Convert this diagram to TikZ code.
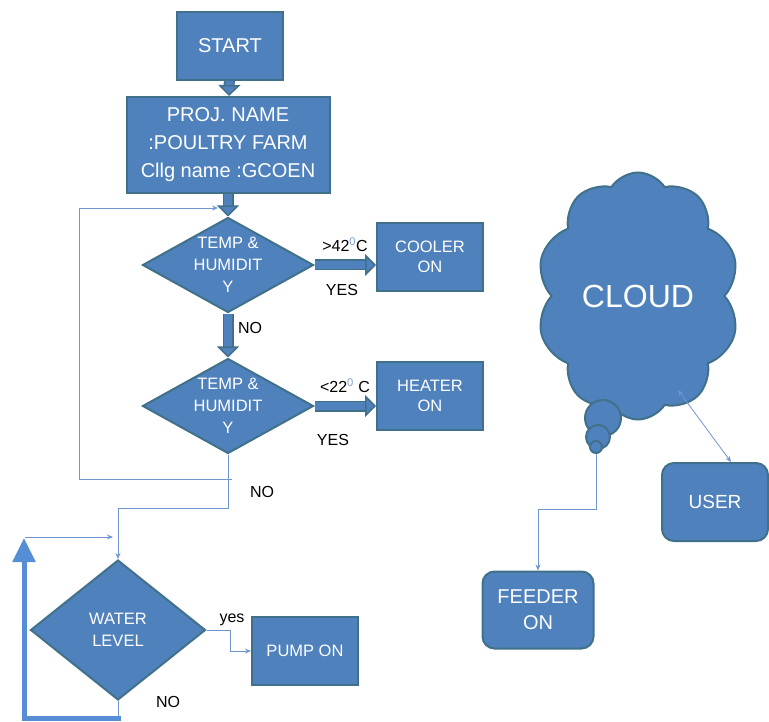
\documentclass[tikz,border=0pt]{standalone}
\usepackage{fontspec}
\setmainfont{Liberation Sans}
\usetikzlibrary{shapes.geometric,shapes.symbols,arrows.meta}

\definecolor{boxblue}{HTML}{4F81BD}
\definecolor{boxedge}{HTML}{41718A}
\definecolor{linkblue}{HTML}{7096D1}
\definecolor{backblue}{HTML}{558ED5}
\definecolor{degblue}{HTML}{7F9FD4}

\tikzset{
  box/.style={draw=boxedge, fill=boxblue, line width=2pt, text=white, align=center, inner sep=0pt, font=\fontsize{16.5}{20}\selectfont},
  decision/.style={box, diamond, minimum width=171pt, minimum height=95pt},
  dtext/.style={text=white, align=center, font=\fontsize{16.5}{22}\selectfont},
  bigarrow/.style={draw=boxedge, line width=1.5pt, double=boxblue, double distance=8pt, -{Triangle[length=11pt,width=22pt,fill=boxblue]}},
  flow/.style={draw=linkblue, line width=0.8pt, -{Stealth[length=6pt,width=5pt]}},
  lbl/.style={inner sep=0pt, font=\fontsize{16}{16}\selectfont}
}

\begin{document}
\begin{tikzpicture}[x=1pt,y=-1pt]
		\useasboundingbox (0,0) rectangle (769,722);
		
		\node[box, minimum width=106pt, minimum height=68pt, font=\fontsize{20}{24}\selectfont] (start) at (230,46) {START};
		\node[box, minimum width=203pt, minimum height=96pt, font=\fontsize{20}{28}\selectfont] (proj) at (228,145) {PROJ. NAME\\:POULTRY FARM\\Cllg name :GCOEN};
		\node[decision, label={[dtext]center:TEMP \&\\HUMIDIT\\Y}] (t1) at (228,265) {};
		\node[box, minimum width=106pt, minimum height=68pt] (cooler) at (430,257) {COOLER\\ON};
		\node[decision, label={[dtext]center:TEMP \&\\HUMIDIT\\Y}] (t2) at (228,406) {};
		\node[box, minimum width=106pt, minimum height=68pt] (heater) at (430,396) {HEATER\\ON};
		\node[decision, minimum width=175pt, minimum height=140pt, label={[dtext]center:WATER\\LEVEL}] (water) at (118,630) {};
		\node[box, minimum width=106pt, minimum height=68pt] (pump) at (305,651) {PUMP ON};
		
		% cloud side
		\node[cloud, cloud puffs=10, cloud puff arc=115, cloud ignores aspect, draw=boxedge, fill=boxblue, line width=2pt, minimum width=203pt, minimum height=247pt, text=white, font=\fontsize{32}{32}\selectfont] (cloud) at (638,296) {CLOUD};
		\node[circle, draw=boxedge, fill=boxblue, line width=2pt, minimum size=36pt, inner sep=0pt] (b1) at (603,418) {};
		\node[circle, draw=boxedge, fill=boxblue, line width=2pt, minimum size=24pt, inner sep=0pt] (b2) at (598,437) {};
		\node[circle, draw=boxedge, fill=boxblue, line width=2pt, minimum size=12pt, inner sep=0pt] (b3) at (596,447) {};
		\node[box, rounded corners=12pt, minimum width=111pt, minimum height=77pt, font=\fontsize{20}{26}\selectfont] (feeder) at (538,610) {FEEDER\\ON};
		\node[box, rounded corners=12pt, minimum width=106pt, minimum height=78pt, font=\fontsize{19}{24}\selectfont] (user) at (715,502) {USER};
		
		% thick arrows
		\draw[bigarrow] (start) -- (proj);
		\draw[bigarrow] (proj) -- (t1);
		\draw[bigarrow] (t1) -- (cooler.west |- t1);
		\draw[bigarrow] (t1) -- (t2);
		\draw[bigarrow] (t2) -- (heater.west |- t2);
		
		\node[lbl] (hot) at (345,245) {>42\textsuperscript{\color{degblue}0}C};
		\node[lbl] (yes1) at (342,290) {YES};
		\node[lbl] (no1) at (250,328) {NO};
		\node[lbl] (cold) at (345,386) {<22\textsuperscript{\color{degblue}0} C};
		\node[lbl] (yes2) at (333,440) {YES};
		\node[lbl] (no2) at (262,492) {NO};
		\node[lbl] (yes3) at (232,620) {yes};
		\node[lbl] (no3) at (168,702) {NO};
		
		% thin connectors
		\coordinate (loopa) at (232,479);
		\coordinate (loopb) at (218,208);
		\draw[flow] (loopa) -- (79,479) |- (loopb);
		\coordinate (split) at (228,508);
		\draw[flow] (t2.south) -- (split) -| (water.north);
		\draw[flow] (water.east) -- ++(24,0) |- (pump.west);
		\draw[flow,-] (water.south) -- (118,716);
		\draw[line width=5pt, backblue, -{Triangle[length=24pt,width=22pt]}] (121,718) -| (24,538);
		\coordinate (backa) at (25,537);
		\coordinate (backb) at (113,537);
		\draw[flow] (backa) -- (backb);
		
		\draw[flow] (b3.south) -- ++(0,55) -| (feeder.north);
		\coordinate (cl) at (678,390);
		\draw[flow, {Stealth[length=6pt,width=5pt]}-{Stealth[length=6pt,width=5pt]}] (cl) -- ([xshift=16pt]user.north);
		\end{tikzpicture}
\end{document}
